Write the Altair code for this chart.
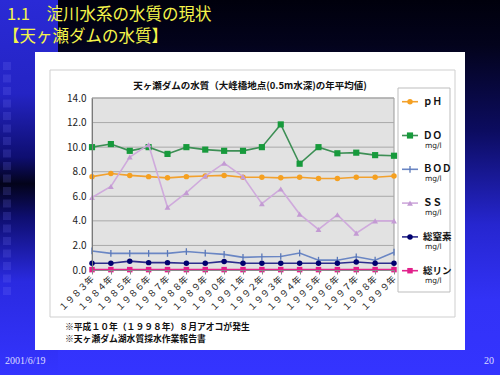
import altair as alt
import pandas as pd

# ---------------- data ----------------
years = ["１９８３年", "１９８４年", "１９８５年", "１９８６年", "１９８７年", "１９８８年",
         "１９８９年", "１９９０年", "１９９１年", "１９９２年", "１９９３年", "１９９４年",
         "１９９５年", "１９９６年", "１９９７年", "１９９８年", "１９９９年"]
ph = [7.6, 7.85, 7.7, 7.6, 7.5, 7.6, 7.65, 7.7, 7.55, 7.55, 7.5, 7.55, 7.45, 7.45, 7.55, 7.55, 7.65]
do = [10.0, 10.25, 9.7, 10.0, 9.45, 10.0, 9.8, 9.7, 9.7, 10.0, 11.85, 8.65, 10.0, 9.5, 9.55, 9.35, 9.3]
bod = [1.55, 1.35, 1.35, 1.35, 1.35, 1.5, 1.38, 1.27, 1.03, 1.08, 1.1, 1.38, 0.8, 0.8, 1.08, 0.8, 1.45]
ss = [5.9, 6.8, 9.2, 10.2, 5.1, 6.3, 7.65, 8.7, 7.6, 5.4, 6.6, 4.55, 3.3, 4.5, 3.0, 4.0, 4.0]
tn = [0.55, 0.55, 0.72, 0.6, 0.6, 0.55, 0.55, 0.7, 0.55, 0.55, 0.55, 0.55, 0.55, 0.55, 0.65, 0.55, 0.55]
tp = [0.03, 0.03, 0.03, 0.03, 0.03, 0.03, 0.03, 0.03, 0.03, 0.03, 0.03, 0.03, 0.03, 0.03, 0.03, 0.03, 0.03]
grid_vals = [2, 4, 6, 8, 10, 12, 14]
y_ticks = [0, 2, 4, 6, 8, 10, 12, 14]

series_names = ["ｐＨ", "ＤＯ", "ＢＯＤ", "ＳＳ", "総窒素", "総リン"]
series_units = ["", "mg/l", "mg/l", "mg/l", "mg/l", "mg/l"]
series_values = [ph, do, bod, ss, tn, tp]

chart_title = "天ヶ瀬ダムの水質（大峰橋地点(0.5m水深)の年平均値)"
slide_title1 = "1.1　淀川水系の水質の現状"
slide_title2 = "【天ヶ瀬ダムの水質】"
notes = ["※平成１０年（１９９８年）８月アオコが発生", "※天ヶ瀬ダム湖水質採水作業報告書"]
date_text = "2001/6/19"
page_text = "20"

# ---------------- styling ----------------
FONT = "Noto Sans CJK JP"
line_colors = ["#f2a12e", "#3d8f55", "#6a86c4", "#cfaadc", "#2c2c8c", "#e2268e"]
mark_colors = ["#f5a020", "#179a3c", "#5a78b8", "#c39ad3", "#00006e", "#e2208a"]
shapes = ["circle", "square", "M0,-1L0,1", "triangle-up", "circle", "square"]
sizes = [30, 38, 45, 34, 30, 30]

W, H = 302, 172
PL, PT = 92, 98
PR, PB = 500 - PL - W, 375 - PT - H

one = pd.DataFrame({"a": [0]})

X = alt.X("year:O", sort=years,
          scale=alt.Scale(domain=years, padding=0),
          axis=alt.Axis(title=None, labelAngle=-45, labelAlign="right", labelBaseline="middle",
                        labelFont=FONT, labelFontSize=9, labelColor="#222222",
                        labelPadding=3, tickSize=4, tickColor="#888888",
                        domainColor="#8a8a8a", grid=False, zindex=1, labelOverlap=False))
Y = alt.Y("value:Q", scale=alt.Scale(domain=[0, 14], nice=False, zero=True),
          axis=alt.Axis(title=None, values=y_ticks, format=".1f", labelFont=FONT,
                        labelFontSize=10, labelColor="#222222", labelPadding=6,
                        tickSize=0, domainColor="#7a7a7a", grid=False, zindex=1))


def rect(x1, x2, y1, y2, **kw):
    return alt.Chart(one).mark_rect(**kw).encode(
        x=alt.value(x1 - PL), x2=alt.value(x2 - PL),
        y=alt.value(y1 - PT), y2=alt.value(y2 - PT))


def text(s, x, y, **kw):
    return alt.Chart(one).mark_text(**kw).encode(
        x=alt.value(x - PL), y=alt.value(y - PT), text=alt.value(s))


def grad(stops):
    return alt.LinearGradient(
        gradient="linear", x1=0, x2=0, y1=0, y2=1,
        stops=[alt.GradientStop(offset=o, color=c) for o, c in stops])


layers = []
# slide background
layers.append(rect(0, 500, 0, 375, color=grad([(0, "#00000c"), (0.12, "#03031c"),
                                                 (0.35, "#0c0c60"), (0.6, "#2626d0"),
                                                 (0.8, "#3232f6"), (1, "#3434ff")])))
# left decorative strip
layers.append(rect(0, 58, 0, 375, color=grad([(0, "#2a2ad6"), (0.25, "#2424c4"),
                                                (0.42, "#0e0e70"), (0.49, "#03031a"),
                                                (0.58, "#0e0e70"), (0.75, "#2a2ae0"),
                                                (1, "#3434ff")])))
# decorative squares on the left strip
for k in range(19):
    sy = 62 + k * 12.5
    layers.append(rect(3, 11, sy, sy + 8, fill="#8080ff", opacity=0.18))
# white panel
layers.append(rect(35, 465, 52, 350, color="#ffffff"))
# chart frame
layers.append(rect(50, 455, 70, 317, fill="#ffffff", stroke="#cfcfcf", strokeWidth=1))
# legend box
layers.append(rect(398, 450, 88, 292, fill="#ffffff", stroke="#bdbdbd", strokeWidth=1))
# plot area
layers.append(rect(PL, PL + W, PT, PT + H, fill="#e2e2e2", stroke="#9a9a9a", strokeWidth=1))

# gridlines
grid_df = pd.DataFrame({"value": grid_vals})
layers.append(alt.Chart(grid_df).mark_rule(color="#a9a9a9", strokeWidth=1).encode(y=Y))

# series
for i, (name, vals) in enumerate(zip(series_names, series_values)):
    df = pd.DataFrame({"year": years, "value": vals})
    base = alt.Chart(df)
    layers.append(base.mark_line(color=line_colors[i], strokeWidth=1.6).encode(x=X, y=Y))
    if shapes[i].startswith("M"):
        layers.append(base.mark_point(shape=shapes[i], filled=False, color=mark_colors[i],
                                      strokeWidth=1.3, size=sizes[i], opacity=1).encode(x=X, y=Y))
    else:
        layers.append(base.mark_point(shape=shapes[i], filled=True, color=mark_colors[i],
                                      size=sizes[i], opacity=1).encode(x=X, y=Y))

# legend (manual)
LEG_Y0, LEG_STEP = 101.7, 33.8
for i, name in enumerate(series_names):
    cy = LEG_Y0 + i * LEG_STEP
    layers.append(alt.Chart(one).mark_rule(color=line_colors[i], strokeWidth=1.6).encode(
        x=alt.value(402 - PL), x2=alt.value(418 - PL), y=alt.value(cy - PT)))
    if shapes[i].startswith("M"):
        layers.append(alt.Chart(one).mark_point(shape=shapes[i], filled=False, color=mark_colors[i],
                                                strokeWidth=1.3, size=sizes[i], opacity=1).encode(
            x=alt.value(410 - PL), y=alt.value(cy - PT)))
    else:
        layers.append(alt.Chart(one).mark_point(shape=shapes[i], filled=True, color=mark_colors[i],
                                                size=sizes[i], opacity=1).encode(
            x=alt.value(410 - PL), y=alt.value(cy - PT)))
    layers.append(text(name, 423, cy, align="left", baseline="middle", font=FONT,
                       fontSize=9.5, fontWeight="bold", color="#111111"))
    if series_units[i]:
        layers.append(text(series_units[i], 425, cy + 10, align="left", baseline="middle",
                           font="DejaVu Sans", fontSize=7.5, color="#222222"))

# titles and texts
layers.append(text(chart_title, 250, 86, align="center", baseline="middle", font=FONT,
                   fontSize=9.5, fontWeight="bold", color="#111111"))
layers.append(text(slide_title1, 7, 15, align="left", baseline="middle", font=FONT,
                   fontSize=16.5, color="#f4f44a"))
layers.append(text(slide_title2, 3, 37, align="left", baseline="middle", font=FONT,
                   fontSize=16.5, color="#f4f44a"))
layers.append(text(notes[0], 65, 327, align="left", baseline="middle", font=FONT,
                   fontSize=8.8, fontWeight="bold", color="#111111"))
layers.append(text(notes[1], 65, 339, align="left", baseline="middle", font=FONT,
                   fontSize=8.8, fontWeight="bold", color="#111111"))
layers.append(text(date_text, 5, 361, align="left", baseline="middle", font="Liberation Serif",
                   fontSize=10, color="#dcdcff"))
layers.append(text(page_text, 494, 361, align="right", baseline="middle", font="Liberation Serif",
                   fontSize=10, color="#dcdcff"))

chart = alt.layer(*layers).properties(
    width=W, height=H,
    autosize=alt.AutoSizeParams(type="none"),
    padding={"left": PL, "top": PT, "right": PR, "bottom": PB},
    background="#3434ff",
).configure_view(stroke=None)

chart.save("out.html", embed_options={"renderer": "svg", "actions": False})
